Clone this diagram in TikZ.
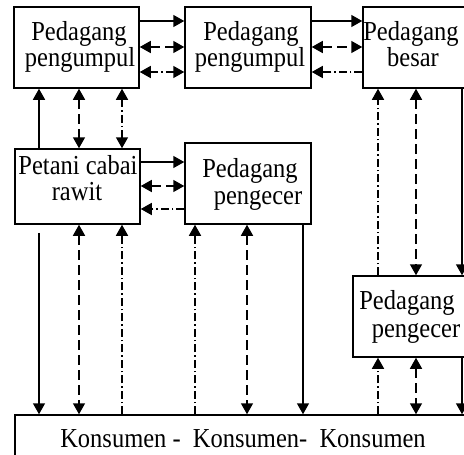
\documentclass[tikz,border=0pt]{standalone}
\usepackage{fontspec}
\usepackage{graphicx}
\setmainfont{Liberation Serif}
\usetikzlibrary{arrows.meta}
\newcommand{\tx}[1]{\scalebox{1}[1.12]{#1}}
\tikzset{
  box/.style={draw, line width=1.5pt, rectangle, inner sep=0pt},
  txt/.style={anchor=base, inner sep=0pt, font=\fontsize{24.5}{27}\selectfont},
  ln/.style={line width=1.5pt},
  tip/.style={-{Triangle[width=12pt,length=11pt]}},
  tipb/.style={{Triangle[width=12pt,length=11pt]}-{Triangle[width=12pt,length=11pt]}},
  solidarr/.style={ln, tip},
  dasharr/.style={ln, tipb, dash pattern=on 10pt off 5pt},
  dashdot/.style={ln, dash pattern=on 8pt off 3pt on 1.5pt off 3pt},
}
\begin{document}
\begin{tikzpicture}[x=1pt,y=-1pt]
\clip (0,0) rectangle (464,455);
\fill[white] (0,0) rectangle (464,455);
% boxes
\node[box, minimum width=125pt, minimum height=81pt] (b1) at (76.5,47.5) {};
\node[box, minimum width=126pt, minimum height=81pt] (b2) at (248,47.5) {};
\node[box, minimum width=127pt, minimum height=81pt] (b3) at (426.5,47.5) {};
\node[box, minimum width=125pt, minimum height=75pt] (b4) at (77.5,186.5) {};
\node[box, minimum width=126pt, minimum height=81pt] (b5) at (248,183.5) {};
\node[box, minimum width=127pt, minimum height=81pt] (b6) at (416.5,316.5) {};
\node[box, minimum width=465pt, minimum height=65pt] (b7) at (247.5,447.5) {};
% texts
\node[txt] (t1a) at (79,40) {\tx{Pedagang}};
\node[txt] (t1b) at (80,66) {\tx{pengumpul}};
\node[txt] (t2a) at (251,40) {\tx{Pedagang}};
\node[txt] (t2b) at (250,66) {\tx{pengumpul}};
\node[txt] (t3a) at (411,40) {\tx{Pedagang}};
\node[txt] (t3b) at (413,66) {\tx{besar}};
\node[txt] (t4a) at (78,174) {\tx{Petani cabai}};
\node[txt] (t4b) at (77,200) {\tx{rawit}};
\node[txt] (t5a) at (250,177) {\tx{Pedagang}};
\node[txt] (t5b) at (258,204) {\tx{pengecer}};
\node[txt] (t6a) at (407,309) {\tx{Pedagang}};
\node[txt] (t6b) at (416,337) {\tx{pengecer}};
\node[txt] (t7) at (243,447) {\tx{Konsumen - \ Konsumen- \ Konsumen}};
% guide coordinates
\coordinate (cA) at (39,0);
\coordinate (cB) at (79,0);
\coordinate (cC) at (122,0);
\coordinate (cD) at (195,0);
\coordinate (cE) at (247,0);
\coordinate (cF) at (303,0);
\coordinate (cG) at (378,0);
\coordinate (cH) at (416,0);
\coordinate (cI) at (462,0);
\coordinate (rA) at (0,21);
\coordinate (rB) at (0,47);
\coordinate (rC) at (0,72);
\coordinate (rD) at (0,162);
\coordinate (rE) at (0,186);
\coordinate (rF) at (0,209);
% top row
\draw[solidarr] (b1.east |- rA) -- (b2.west |- rA);
\draw[dasharr] (b1.east |- rB) -- (b2.west |- rB);
\draw[dashdot, tipb] (b1.east |- rC) -- (b2.west |- rC);
\draw[solidarr] (b2.east |- rA) -- (b3.west |- rA);
\draw[dasharr] (b2.east |- rB) -- (b3.west |- rB);
\draw[dashdot, tip] (b3.west |- rC) -- (b2.east |- rC);
% middle row
\draw[solidarr] (b4.east |- rD) -- (b5.west |- rD);
\draw[dasharr] (b4.east |- rE) -- (b5.west |- rE);
\draw[dashdot, tip] (b5.west |- rF) -- (b4.east |- rF);
% b1 - b4
\draw[solidarr] (b4.north -| cA) -- (b1.south -| cA);
\draw[dasharr] (b1.south -| cB) -- (b4.north -| cB);
\draw[dashdot, tipb] (b1.south -| cC) -- (b4.north -| cC);
% b4 - konsumen
\draw[solidarr, shorten <=8pt] (b4.south -| cA) -- (b7.north -| cA);
\draw[dasharr] (b4.south -| cB) -- (b7.north -| cB);
\draw[dashdot, tip] (b7.north -| cC) -- (b4.south -| cC);
% b5 - konsumen
\draw[dashdot, tip] (b7.north -| cD) -- (b5.south -| cD);
\draw[dasharr] (b5.south -| cE) -- (b7.north -| cE);
\draw[solidarr] (b5.south -| cF) -- (b7.north -| cF);
% b3 - b6
\draw[dashdot, tip] (b6.north -| cG) -- (b3.south -| cG);
\draw[dasharr] (b3.south -| cH) -- (b6.north -| cH);
\draw[solidarr] (b3.south -| cI) -- (b6.north -| cI);
% b6 - konsumen
\draw[dashdot, tip] (b7.north -| cG) -- (b6.south -| cG);
\draw[dasharr] (b6.south -| cH) -- (b7.north -| cH);
\draw[solidarr] (b6.south -| cI) -- (b7.north -| cI);
\end{tikzpicture}
\end{document}
